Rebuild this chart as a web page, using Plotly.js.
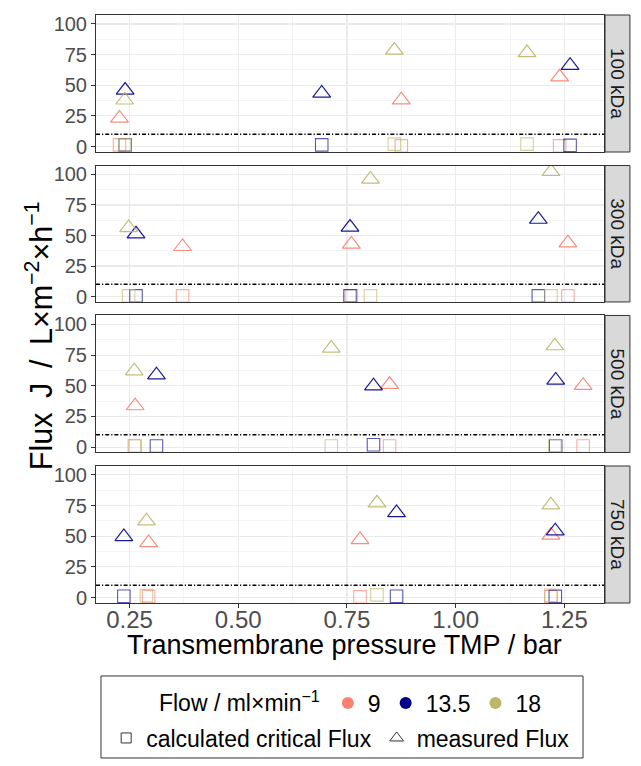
<!DOCTYPE html>
<html><head><meta charset="utf-8">
<script src="https://cdn.plot.ly/plotly-3.0.1.min.js"></script>
<style>html,body{margin:0;padding:0;background:#fff}#chart{width:641px;height:766px}</style>
</head><body><div id="chart"></div>
<script>
// ---------- data ----------
const membranes = ['100 kDa', '300 kDa', '500 kDa', '750 kDa'];
const flows = ['9', '13.5', '18'];
const flowColors = ['#FA8072', '#00008B', '#BDB76B'];
const criticalLine = 10;
const xTicks = [0.25, 0.5, 0.75, 1.0, 1.25];
const yTicks = [0, 25, 50, 75, 100];

// rows = flow 9, 13.5, 18 ; columns = measurement points
const tmp100 = [[0.227, 0.875, 1.239], [0.240, 0.692, 1.263], [0.239, 0.859, 1.164]];
const measured100 = [[23.2, 38.0, 56.7], [45.9, 43.5, 66.2], [37.9, 78.5, 76.5]];
const critical100 = [[1.4, 0.6, 0.6], [1.4, 1.4, 1.0], [1.4, 2.0, 2.0]];

const tmp300 = [[0.372, 0.760, 1.258], [0.265, 0.757, 1.190], [0.248, 0.804, 1.219]];
const measured300 = [[40.9, 42.9, 43.9], [51.2, 56.7, 63.2], [56.4, 96.1, 102.3]];
const critical300 = [[0.6, 0.6, 0.6], [0.6, 0.6, 0.6], [0.6, 0.6, 0.6]];

const tmp500 = [[0.263, 0.848, 1.293], [0.312, 0.811, 1.230], [0.261, 0.714, 1.228]];
const measured500 = [[33.6, 51.0, 50.2], [58.8, 49.8, 54.5], [62.1, 80.6, 82.5]];
const critical500 = [[0.9, 0.9, 0.9], [0.9, 1.9, 0.9], [0.9, 0.9, 1.2]];

const tmp750 = [[0.294, 0.780, 1.219], [0.237, 0.864, 1.229], [0.289, 0.819, 1.219]];
const measured750 = [[44.8, 47.2, 50.8], [49.7, 69.2, 54.3], [62.5, 77.1, 75.5]];
const critical750 = [[0.8, 0.6, 0.8], [1.1, 1.1, 1.0], [1.6, 2.2, 1.8]];

const panelTmp = [tmp100, tmp300, tmp500, tmp750];
const panelMeasured = [measured100, measured300, measured500, measured750];
const panelCritical = [critical100, critical300, critical500, critical750];

// ---------- layout constants ----------
const FONT = 'Liberation Sans, Arial, Helvetica, sans-serif';
const domains = [[0.767, 1.0], [0.512, 0.744], [0.256, 0.489], [0.0, 0.233]];
const xRange = [0.173, 1.341];
const yRange = [-4.4, 107.3];
const SP = ' \u2009';

const traces = [];
const layout = {
  width: 641, height: 766,
  margin: {l: 96, r: 37, t: 15, b: 163, autoexpand: false},
  paper_bgcolor: '#fff', plot_bgcolor: '#fff',
  font: {family: FONT, color: '#000'},
  shapes: [], annotations: [],
  showlegend: true,
  legend: {
    orientation: 'h', x: 0.12, y: -0.170, xanchor: 'left', yanchor: 'middle',
    xref: 'paper', yref: 'paper',
    title: {text: 'Flow / ml×min<sup>−1</sup>', side: 'left', font: {size: 23, family: FONT, color: '#000'}},
    font: {size: 23, family: FONT, color: '#000'}, bgcolor: 'rgba(0,0,0,0)',
    itemwidth: 30, tracegroupgap: 0
  },
  legend2: {
    orientation: 'h', x: 0.02, y: -0.2296, xanchor: 'left', yanchor: 'middle',
    xref: 'paper', yref: 'paper',
    font: {size: 23, family: FONT, color: '#000'}, bgcolor: 'rgba(0,0,0,0)',
    itemwidth: 30, tracegroupgap: 0
  }
};

for (let p = 0; p < 4; p++) {
  const sfx = p === 0 ? '' : String(p + 1);
  const xa = 'x' + sfx, ya = 'y' + sfx;
  layout['xaxis' + sfx] = {
    domain: [0, 1], anchor: ya, range: xRange, matches: p === 0 ? undefined : 'x',
    tickvals: xTicks, tickformat: '.2f', showticklabels: p === 3,
    ticks: p === 3 ? 'outside' : '', ticklen: 4, tickwidth: 1, tickcolor: '#333',
    ticklabelstandoff: -9,
    tickfont: {size: 24, family: FONT, color: '#4D4D4D'},
    showgrid: true, gridcolor: '#EBEBEB', gridwidth: 1.1,
    minor: {dtick: 0.125, tick0: 0, showgrid: true, gridcolor: '#EBEBEB', gridwidth: 0.55},
    zeroline: false, showline: true, mirror: true, linecolor: '#333', linewidth: 1
  };
  layout['yaxis' + sfx] = {
    domain: domains[p], anchor: xa, range: yRange,
    tickvals: yTicks, ticks: 'outside', ticklen: 4, tickwidth: 1, tickcolor: '#333',
    tickfont: {size: 20, family: FONT, color: '#4D4D4D'},
    showgrid: true, gridcolor: '#EBEBEB', gridwidth: 1.1,
    minor: {dtick: 12.5, tick0: 0, showgrid: true, gridcolor: '#EBEBEB', gridwidth: 0.55},
    zeroline: false, showline: true, mirror: true, linecolor: '#333', linewidth: 1
  };

  // critical flux reference line
  traces.push({
    x: xRange, y: [criticalLine, criticalLine], xaxis: xa, yaxis: ya,
    mode: 'lines', line: {color: '#000', width: 1.5, dash: '4px,2px,1.2px,2px'},
    showlegend: false, hoverinfo: 'skip'
  });

  for (let f = 0; f < 3; f++) {
    traces.push({
      x: panelTmp[p][f], y: panelCritical[p][f], xaxis: xa, yaxis: ya,
      mode: 'markers', showlegend: false,
      marker: {symbol: 'square-open', size: 12.5, color: flowColors[f], opacity: 0.65, line: {width: 1.1}}
    });
  }
  for (let f = 0; f < 3; f++) {
    traces.push({
      x: panelTmp[p][f], y: panelMeasured[p][f], xaxis: xa, yaxis: ya,
      mode: 'markers', showlegend: false,
      marker: {symbol: 'triangle-up-open', size: 15.5, color: flowColors[f], opacity: 0.9, line: {width: 1.2}}
    });
  }

  // strip
  layout.shapes.push({
    type: 'rect', xref: 'paper', yref: 'paper', x0: 1.002, x1: 1.051,
    y0: domains[p][0], y1: domains[p][1], fillcolor: '#D9D9D9',
    line: {color: '#333', width: 1}, layer: 'below'
  });
  layout.annotations.push({
    xref: 'paper', yref: 'paper', x: 1.0265, y: (domains[p][0] + domains[p][1]) / 2,
    text: membranes[p], textangle: 90, showarrow: false,
    font: {size: 19, family: FONT, color: '#1A1A1A'}, xanchor: 'center', yanchor: 'middle'
  });
}

// legend entries
for (let f = 0; f < 3; f++) {
  traces.push({
    x: [null], y: [null], mode: 'markers', name: flows[f], legend: 'legend',
    marker: {symbol: 'circle', size: 12, color: flowColors[f]}
  });
}
traces.push({x: [null], y: [null], mode: 'markers', name: 'calculated critical Flux', legend: 'legend2',
  marker: {symbol: 'square-open', size: 10, color: '#333', line: {width: 1}}});
traces.push({x: [null], y: [null], mode: 'markers', name: 'measured Flux', legend: 'legend2',
  marker: {symbol: 'triangle-up-open', size: 12, color: '#333', line: {width: 1}}});

// legend frame
layout.shapes.push({
  type: 'rect', xref: 'paper', yref: 'paper', x0: 0.0098, x1: 0.9587, y0: -0.2636, y1: -0.1241,
  line: {color: '#333', width: 1}, fillcolor: 'rgba(0,0,0,0)'
});

// axis titles
layout.annotations.push({
  xref: 'paper', yref: 'paper', x: 0.49, y: -0.0714, xanchor: 'center', yanchor: 'middle',
  text: 'Transmembrane pressure TMP / bar', showarrow: false,
  font: {size: 27, family: FONT, color: '#000'}
});
layout.annotations.push({
  xref: 'paper', yref: 'paper', x: -0.112, y: 0.454, xanchor: 'center', yanchor: 'middle',
  text: 'Flux' + SP + 'J' + SP + '/' + SP + 'L×m<sup>−2</sup>×h<sup>−1</sup>',
  textangle: -90, showarrow: false,
  font: {size: 30.5, family: FONT, color: '#000'}
});

Plotly.newPlot('chart', traces, layout, {staticPlot: true, displayModeBar: false});
</script>
</body></html>
